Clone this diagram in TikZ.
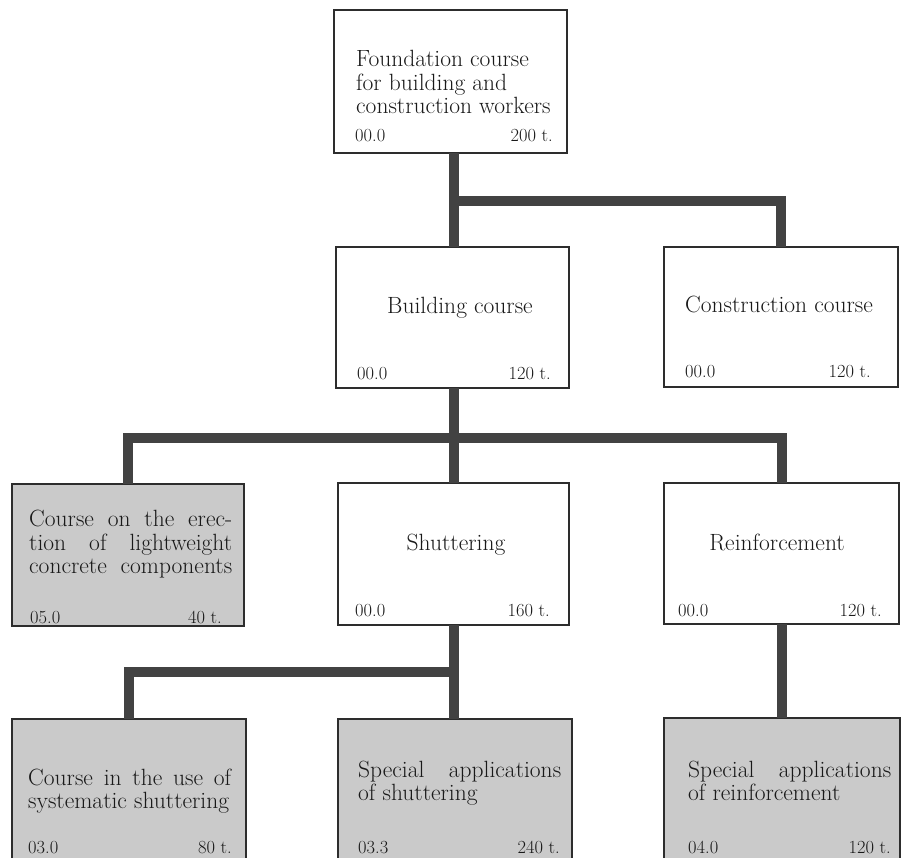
\documentclass[tikz,border=0pt]{standalone}
\usepackage{fontspec}
\definecolor{connc}{RGB}{66,66,66}
\definecolor{edgec}{RGB}{45,45,45}
\definecolor{shade}{RGB}{202,202,202}
\definecolor{ink}{RGB}{25,25,25}
\newcommand\tfont{\fontsize{23.5}{23.5}\selectfont}
\newcommand\nfont{\fontsize{18.5}{20}\selectfont}
\newcommand\jline[1]{\makebox[203pt][s]{#1}}
\tikzset{
  box/.style={draw=edgec,line width=1.3pt,fill=white,inner sep=0pt,outer sep=0pt},
  shaded/.style={box,fill=shade},
  conn/.style={draw=connc,line width=10pt,line join=miter},
  title/.style={inner sep=0pt,text=ink,font=\tfont},
  numl/.style={inner sep=0pt,text=ink,font=\nfont,anchor=base west},
  numr/.style={inner sep=0pt,text=ink,font=\nfont,anchor=base east},
}
\begin{document}
\begin{tikzpicture}[x=1pt,y=-1pt]
\useasboundingbox (0,0) rectangle (906,858);
\clip (0,0) rectangle (906,858);
\fill[white] (0,0) rectangle (906,858);

% boxes
\node[box,minimum width=233pt,minimum height=143pt] (top) at (450.5,81.5) {};
\node[box,minimum width=233pt,minimum height=141pt] (build) at (452.5,317.5) {};
\node[box,minimum width=234pt,minimum height=140pt] (constr) at (781,317) {};
\node[shaded,minimum width=232pt,minimum height=142pt] (lwc) at (128,555) {};
\node[box,minimum width=231pt,minimum height=142pt] (shut) at (453.5,554) {};
\node[box,minimum width=235pt,minimum height=141pt] (reinf) at (781.5,553.5) {};
\node[shaded,minimum width=234pt,minimum height=150pt] (sys) at (129,794) {};
\node[shaded,minimum width=234pt,minimum height=150pt] (sshut) at (455,794) {};
\node[shaded,minimum width=236pt,minimum height=150pt] (sreinf) at (782,793) {};

% connector junctions
\coordinate (s1) at (454,0);
\coordinate (h1) at (454,201);
\coordinate (h2) at (454,438);
\coordinate (h3) at (454,672);

\draw[conn] (top.south -| s1) -- (build.north -| s1);
\draw[conn] (h1) -| (constr.north);
\draw[conn] (build.south -| s1) -- (shut.north -| s1);
\draw[conn] (lwc.north) |- (h2) -| (reinf.north);
\draw[conn] (shut.south -| s1) -- (sshut.north -| s1);
\draw[conn] (sys.north) |- (h3);
\draw[conn] (reinf.south) -- (reinf.south |- sreinf.north);

% texts
\node[title,anchor=base west] (ttop) at (356,67) {\parbox[t]{205pt}{\tfont\raggedright Foundation course\\for building and\\construction workers}};
\node[numl] at (355,142) {00.0};
\node[numr] at (553,142) {200 t.};

\node[title,anchor=base] at (460,314) {Building course};
\node[numl] at (357,380) {00.0};
\node[numr] at (551,380) {120 t.};

\node[title,anchor=base] at (779,313) {Construction course};
\node[numl] at (685,378) {00.0};
\node[numr] at (871,378) {120 t.};

\node[title,anchor=base west] at (29,527) {\parbox[t]{203pt}{\tfont\jline{Course on the erec-}\\\jline{tion of lightweight}\\\jline{concrete components}}};
\node[numl] at (30,624) {05.0};
\node[numr] at (222,624) {40 t.};

\node[title,anchor=base] at (456,551) {Shuttering};
\node[numl] at (355,617) {00.0};
\node[numr] at (550,617) {160 t.};

\node[title,anchor=base] at (777,551) {Reinforcement};
\node[numl] at (678,617) {00.0};
\node[numr] at (882,617) {120 t.};

\node[title,anchor=base west] at (28,785) {\parbox[t]{203pt}{\tfont\jline{Course in the use of}\\systematic shuttering}};
\node[numl] at (28,853) {03.0};
\node[numr] at (232,853) {80 t.};

\node[title,anchor=base west] at (358,777) {\parbox[t]{203pt}{\tfont\jline{Special applications}\\of shuttering}};
\node[numl] at (358,853) {03.3};
\node[numr] at (560,853) {240 t.};

\node[title,anchor=base west] at (688,777) {\parbox[t]{203pt}{\tfont\jline{Special applications}\\of reinforcement}};
\node[numl] at (688,853) {04.0};
\node[numr] at (891,853) {120 t.};
\end{tikzpicture}
\end{document}
